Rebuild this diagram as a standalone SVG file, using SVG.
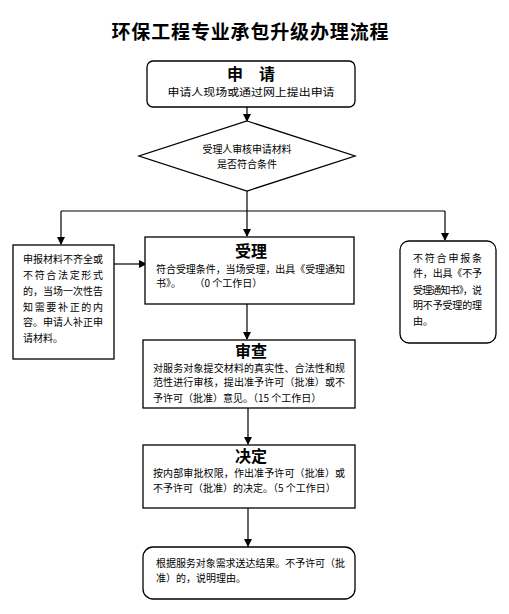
<svg xmlns="http://www.w3.org/2000/svg" width="509" height="614" viewBox="0 0 509 614">
<defs>
<marker id="ah" markerWidth="8" markerHeight="8" refX="7" refY="4" orient="auto" markerUnits="userSpaceOnUse">
<path d="M0,0 L8,4 L0,8 z" fill="#000"/>
</marker>
<style>
.box{fill:#fff;stroke:#000;stroke-width:1.3}
.ln{fill:none;stroke:#000;stroke-width:1.2}
.t{font-family:"Noto Sans CJK SC","Liberation Sans",sans-serif;font-size:10px;fill:#000}
.h{font-family:"Noto Sans CJK SC","Liberation Sans",sans-serif;font-size:16px;font-weight:bold;fill:#000;text-anchor:middle}
.c{text-anchor:middle}
</style>
</defs>
<rect width="509" height="614" fill="#fff"/>
<text x="250" y="39" font-family="'Noto Sans CJK SC',sans-serif" font-size="19" font-weight="bold" text-anchor="middle" textLength="277" lengthAdjust="spacing">环保工程专业承包升级办理流程</text>

<g id="connectors">
<line class="ln" x1="247" y1="107" x2="247" y2="121" marker-end="url(#ah)"/>
<polyline class="ln" points="247,191 247,211"/>
<polyline class="ln" points="61,211 445,211"/>
<line class="ln" x1="61" y1="211" x2="61" y2="244" marker-end="url(#ah)"/>
<line class="ln" x1="247" y1="211" x2="247" y2="236" marker-end="url(#ah)"/>
<line class="ln" x1="445" y1="211" x2="445" y2="240" marker-end="url(#ah)"/>
<line class="ln" x1="114" y1="264" x2="146" y2="264" marker-end="url(#ah)"/>
<line class="ln" x1="247" y1="304" x2="247" y2="339" marker-end="url(#ah)"/>
<line class="ln" x1="248" y1="408" x2="248" y2="444" marker-end="url(#ah)"/>
<line class="ln" x1="248" y1="508" x2="248" y2="546" marker-end="url(#ah)"/>
</g>

<g id="apply">
<rect class="box" x="147" y="61" width="208" height="46" rx="6"/>
<text class="h" x="251" y="80">申　请</text>
<text class="t c" x="251" y="96" font-size="12" textLength="167" lengthAdjust="spacingAndGlyphs">申请人现场或通过网上提出申请</text>
</g>

<g id="check">
<polygon class="box" points="247,121 355,156 247,191 139,156"/>
<text class="t c" x="247" y="153" textLength="89" lengthAdjust="spacing">受理人审核申请材料</text>
<text class="t c" x="247" y="168">是否符合条件</text>
</g>

<g id="supplement">
<rect class="box" x="13" y="245" width="101" height="114"/>
<text class="t" x="23" y="263" textLength="80" lengthAdjust="spacing">申报材料不齐全或</text>
<text class="t" x="23" y="279" textLength="80" lengthAdjust="spacing">不符合法定形式</text>
<text class="t" x="23" y="295" textLength="80" lengthAdjust="spacing">的，当场一次性告</text>
<text class="t" x="23" y="311" textLength="80" lengthAdjust="spacing">知需要补正的内</text>
<text class="t" x="23" y="326" textLength="80" lengthAdjust="spacing">容。申请人补正申</text>
<text class="t" x="23" y="342">请材料。</text>
</g>

<g id="accept">
<rect class="box" x="145" y="237" width="209" height="67"/>
<text class="h" x="251" y="257">受理</text>
<text class="t" x="156" y="273" textLength="189" lengthAdjust="spacing">符合受理条件，当场受理，出具《受理通知</text>
<text class="t" x="156" y="287" xml:space="preserve">书》。      （0 个工作日）</text>
</g>

<g id="reject">
<rect class="box" x="400" y="241" width="96" height="102" rx="9"/>
<text class="t" x="413" y="262" textLength="69" lengthAdjust="spacing">不符合申报条</text>
<text class="t" x="413" y="277" textLength="69" lengthAdjust="spacing">件，出具《不予</text>
<text class="t" x="413" y="294" textLength="69" lengthAdjust="spacing">受理通知书》，说</text>
<text class="t" x="413" y="309" textLength="69" lengthAdjust="spacing">明不予受理的理</text>
<text class="t" x="413" y="325">由。</text>
</g>

<g id="review">
<rect class="box" x="143" y="340" width="212" height="68"/>
<text class="h" x="251" y="357">审查</text>
<text class="t" x="153" y="372" textLength="192" lengthAdjust="spacing">对服务对象提交材料的真实性、合法性和规</text>
<text class="t" x="153" y="386" textLength="192" lengthAdjust="spacing">范性进行审核，提出准予许可（批准）或不</text>
<text class="t" x="153" y="402">予许可（批准）意见。（15 个工作日）</text>
</g>

<g id="decide">
<rect class="box" x="143" y="445" width="212" height="63"/>
<text class="h" x="251" y="462">决定</text>
<text class="t" x="153" y="477" textLength="192" lengthAdjust="spacing">按内部审批权限，作出准予许可（批准）或</text>
<text class="t" x="153" y="492">不予许可（批准）的决定。（5 个工作日）</text>
</g>

<g id="deliver">
<rect class="box" x="143" y="547" width="212" height="52" rx="10"/>
<text class="t" x="156" y="567" textLength="189" lengthAdjust="spacing">根据服务对象需求送达结果。不予许可（批</text>
<text class="t" x="156" y="582">准）的，说明理由。</text>
</g>
</svg>
